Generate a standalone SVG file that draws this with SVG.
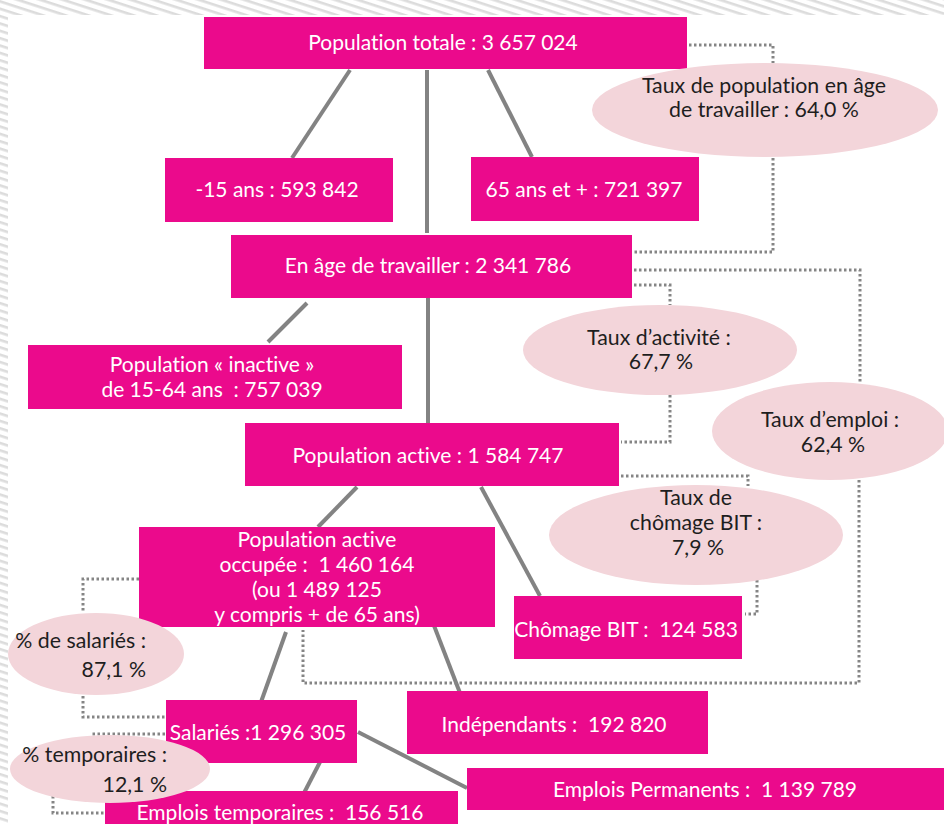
<svg xmlns="http://www.w3.org/2000/svg" width="944" height="824" viewBox="0 0 944 824">
<defs>
<pattern id="hatch" patternUnits="userSpaceOnUse" width="12" height="7" patternTransform="rotate(18)">
<rect width="12" height="7" fill="#ffffff"/>
<rect y="0" width="12" height="2.6" fill="#dcdcdc"/>
</pattern>
</defs>
<style>
.box{fill:#EB0A8C}
.ell{fill:#F3D5DA}
.bt{font-family:Lato,"Open Sans","Liberation Sans",sans-serif;font-size:21px;fill:#ffffff;text-anchor:middle;white-space:pre;font-variant-ligatures:none}
.et{font-family:Lato,"Open Sans","Liberation Sans",sans-serif;font-size:21.3px;fill:#1e1e1e;text-anchor:middle;white-space:pre;font-variant-ligatures:none}
.solid{stroke:#838383;stroke-width:4;fill:none;stroke-linecap:butt}
.dot{stroke:#858585;stroke-width:3;fill:none;stroke-dasharray:2.5 2.5}
</style>
<rect width="944" height="824" fill="#ffffff"/>
<rect x="0" y="0" width="944" height="15" fill="url(#hatch)"/>
<rect x="0" y="15" width="8" height="809" fill="url(#hatch)"/>

<g id="connectors">
<line class="solid" x1="350" y1="70" x2="292" y2="158"/>
<line class="solid" x1="427" y1="70" x2="427" y2="233"/>
<line class="solid" x1="488" y1="70" x2="532" y2="157"/>
<line class="solid" x1="307" y1="303" x2="268" y2="342"/>
<line class="solid" x1="428" y1="298" x2="428" y2="423"/>
<line class="solid" x1="357" y1="487" x2="318" y2="527"/>
<line class="solid" x1="481" y1="487" x2="540" y2="596"/>
<line class="solid" x1="286" y1="632" x2="261" y2="702"/>
<line class="solid" x1="433" y1="623" x2="460" y2="693"/>
<line class="solid" x1="320" y1="762" x2="304" y2="793"/>
<line class="solid" x1="358" y1="732" x2="467" y2="788"/>

<polyline class="dot" points="689,45 773,45 773,63"/>
<polyline class="dot" points="773,158 773,252 634,252"/>
<polyline class="dot" points="634,270 860,270 860,382"/>
<polyline class="dot" points="859,480 859,683 303,683 303,630"/>
<polyline class="dot" points="634,285 670,285 670,305"/>
<polyline class="dot" points="670,395 670,442 621,442"/>
<polyline class="dot" points="621,476 748,476 748,486"/>
<polyline class="dot" points="757,580 757,614 745,614"/>
<polyline class="dot" points="139,579 83,579 83,613"/>
<polyline class="dot" points="83,696 83,717 165,717"/>
<polyline class="dot" points="165,734 90,734"/>
<polyline class="dot" points="53,796 53,813 105,813"/>
</g>

<g id="n-total"><rect class="box" x="204" y="17" width="483" height="52"/><text class="bt" x="443" y="50">Population totale : 3 657 024</text></g>
<g id="n-moins15"><rect class="box" x="165" y="158" width="228" height="64"/><text class="bt" x="277" y="197">-15 ans : 593 842</text></g>
<g id="n-65plus"><rect class="box" x="471" y="157" width="228" height="64"/><text class="bt" x="584" y="197">65 ans et + : 721 397</text></g>
<g id="n-age"><rect class="box" x="231" y="235" width="401" height="63"/><text class="bt" x="428" y="273">En âge de travailler : 2 341 786</text></g>
<g id="n-inactive"><rect class="box" x="28" y="345" width="374" height="64"/><text class="bt" x="212" y="372">Population « inactive »</text><text class="bt" x="212" y="397">de 15-64 ans  : 757 039</text></g>
<g id="n-active"><rect class="box" x="245" y="423" width="374" height="63"/><text class="bt" x="428" y="463">Population active : 1 584 747</text></g>
<g id="n-occupee"><rect class="box" x="139" y="527" width="356" height="100"/><text class="bt" x="317" y="547">Population active</text><text class="bt" x="317" y="572">occupée :  1 460 164</text><text class="bt" x="317" y="597">(ou 1 489 125</text><text class="bt" x="317" y="622">y compris + de 65 ans)</text></g>
<g id="n-chomage"><rect class="box" x="514" y="596" width="228" height="63"/><text class="bt" x="626" y="637">Chômage BIT :  124 583</text></g>
<g id="n-indep"><rect class="box" x="407" y="691" width="301" height="63"/><text class="bt" x="554" y="732">Indépendants :  192 820</text></g>
<g id="n-salaries"><rect class="box" x="166" y="700" width="191" height="63"/><text class="bt" x="258" y="740">Salariés :1 296 305</text></g>
<g id="n-permanents"><rect class="box" x="467" y="768" width="477" height="42"/><text class="bt" x="705" y="797">Emplois Permanents :  1 139 789</text></g>
<g id="n-temporaires"><rect class="box" x="105" y="791" width="353" height="33"/><text class="bt" x="280" y="820">Emplois temporaires :  156 516</text></g>

<g id="e-taux-age"><ellipse class="ell" cx="765" cy="110" rx="173" ry="47"/><text class="et" x="764" y="93">Taux de population en âge</text><text class="et" x="764" y="117">de travailler : 64,0 %</text></g>
<g id="e-activite"><ellipse class="ell" cx="660" cy="350" rx="137" ry="45"/><text class="et" x="659" y="345">Taux d’activité :</text><text class="et" x="661" y="369">67,7 %</text></g>
<g id="e-emploi"><ellipse class="ell" cx="830" cy="431" rx="118" ry="49"/><text class="et" x="830" y="427">Taux d’emploi :</text><text class="et" x="833" y="452">62,4 %</text></g>
<g id="e-chomage"><ellipse class="ell" cx="696" cy="535" rx="147" ry="50"/><text class="et" x="696" y="505">Taux de</text><text class="et" x="696" y="530">chômage BIT :</text><text class="et" x="698" y="555">7,9 %</text></g>
<g id="e-salaries"><ellipse class="ell" cx="96" cy="654" rx="88" ry="41"/><text class="et" x="146" y="648" style="text-anchor:end">% de salariés :</text><text class="et" x="146" y="677" style="text-anchor:end">87,1 %</text></g>
<g id="e-temporaires"><ellipse class="ell" cx="110" cy="769" rx="100" ry="34"/><text class="et" x="167" y="762" style="text-anchor:end">% temporaires :</text><text class="et" x="167" y="792" style="text-anchor:end">12,1 %</text></g>
</svg>
